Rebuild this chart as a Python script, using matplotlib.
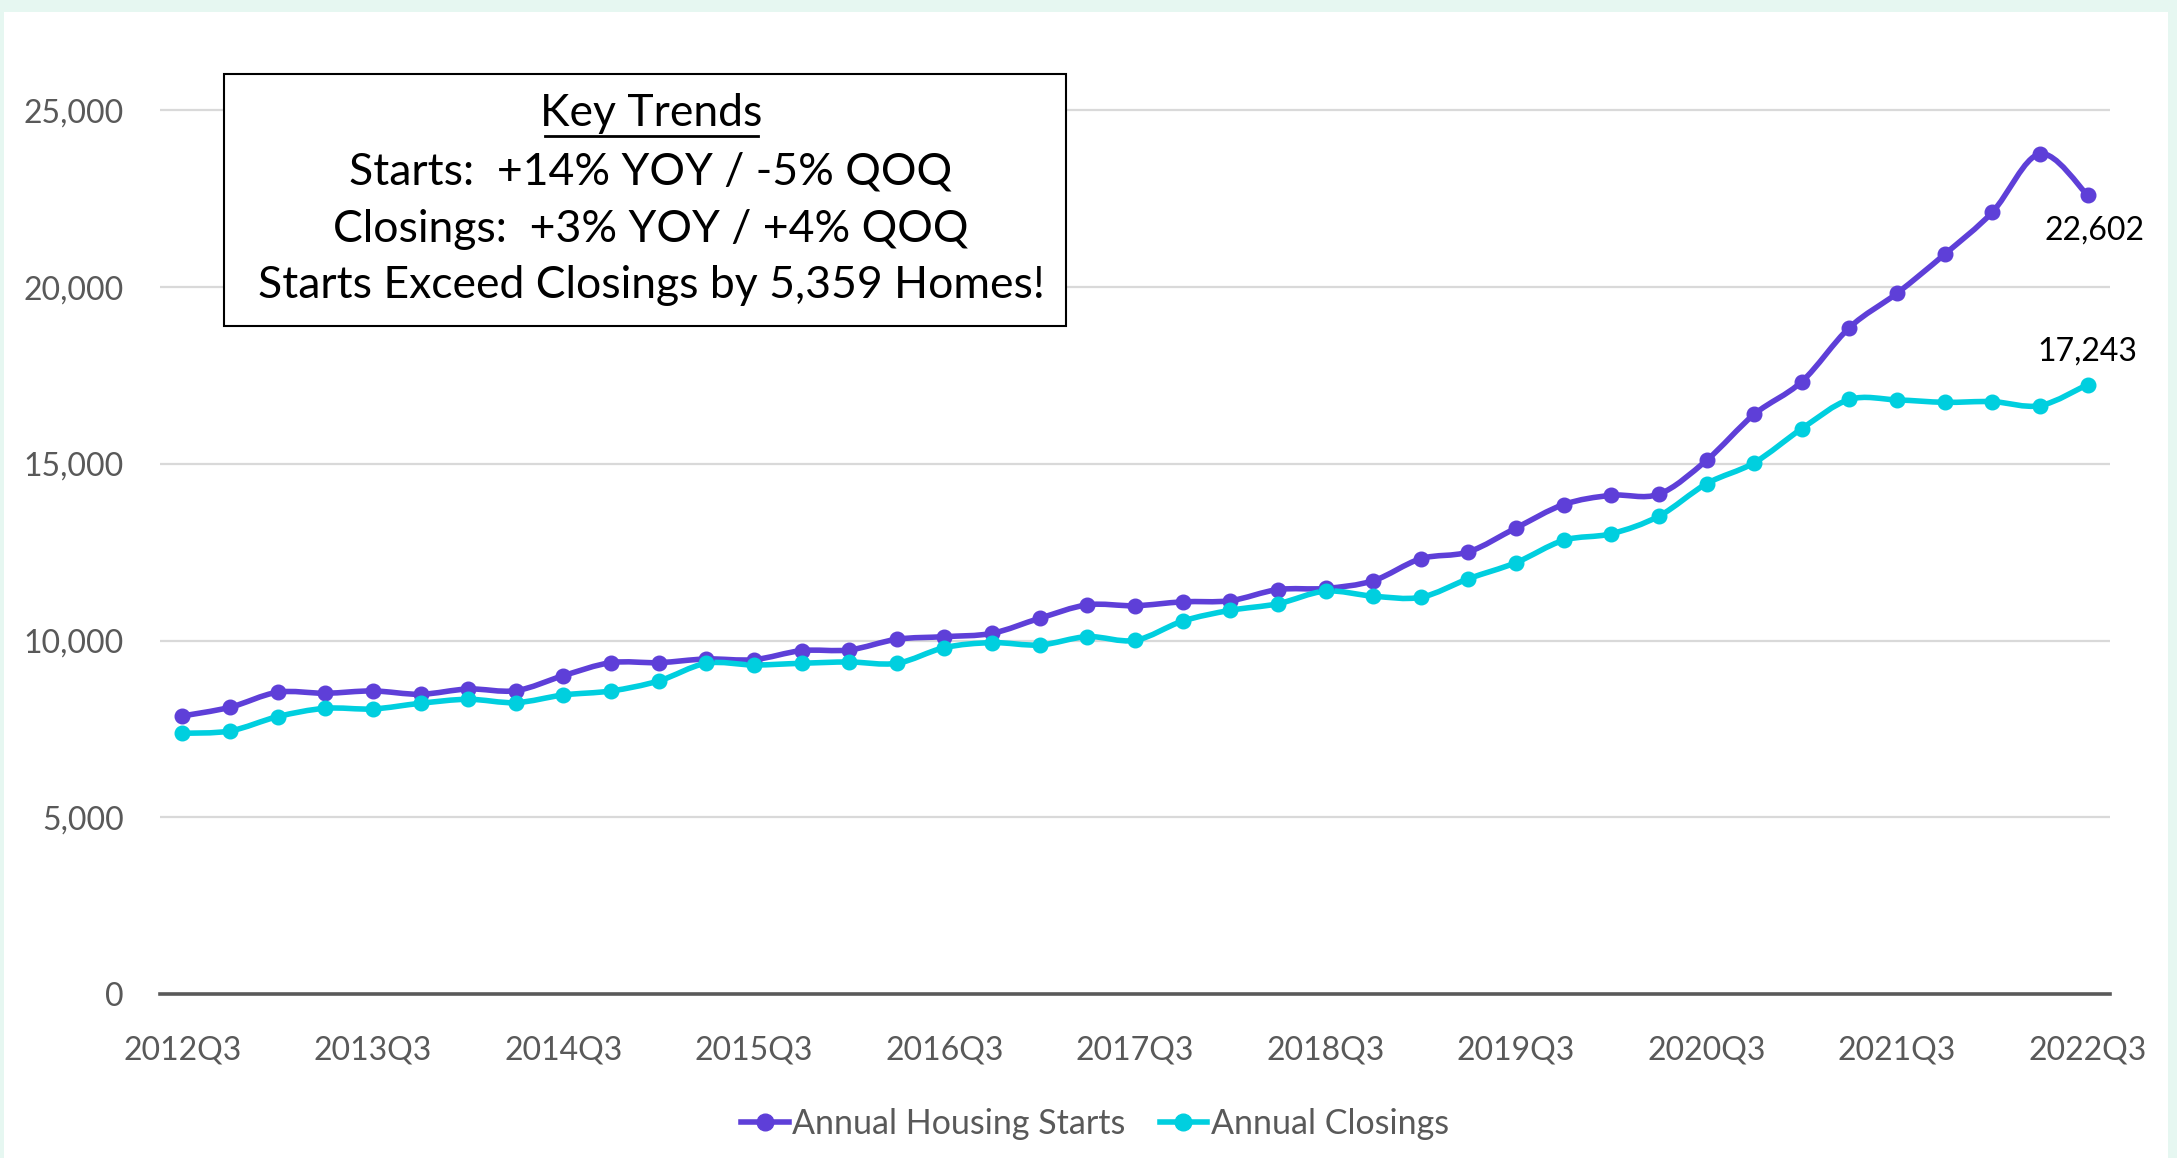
import matplotlib.pyplot as plt
from matplotlib.path import Path
from matplotlib.patches import PathPatch, Rectangle
from matplotlib.lines import Line2D
import numpy as np

# quarters 2012Q3 .. 2022Q3
quarters = []
for yr in range(2012, 2023):
    for q in (1, 2, 3, 4):
        if (yr == 2012 and q < 3) or (yr == 2022 and q > 3):
            continue
        quarters.append(f"{yr}Q{q}")

starts = [7866, 8112, 8537, 8509, 8574, 8480, 8630, 8583, 9007, 9375,
          9375, 9479, 9460, 9715, 9734, 10036, 10110, 10205, 10630, 11010,
          10985, 11095, 11127, 11443, 11475, 11692, 12315, 12510, 13186, 13848,
          14109, 14143, 15100, 16400, 17326, 18855, 19827, 20930, 22120, 23770,
          22602]
closings = [7376, 7442, 7847, 8083, 8065, 8225, 8338, 8243, 8461, 8574,
            8857, 9357, 9309, 9357, 9394, 9357, 9799, 9941, 9875, 10110,
            10006, 10550, 10855, 11041, 11398, 11256, 11225, 11749, 12205, 12836,
            13022, 13520, 14437, 15030, 15995, 16820, 16808, 16740, 16760, 16647,
            17243]

tick_labels = ["2012Q3", "2013Q3", "2014Q3", "2015Q3", "2016Q3", "2017Q3",
               "2018Q3", "2019Q3", "2020Q3", "2021Q3", "2022Q3"]
y_ticks = [0, 5000, 10000, 15000, 20000, 25000]

PURPLE = '#5E3FD8'
CYAN = '#00CFDF'
GRAY = '#595959'

plt.rcParams['font.family'] = ['Lato', 'DejaVu Sans']


def smooth_path(xs, ys):
    """Excel-like smoothed line: cubic bezier through every point"""
    pts = np.column_stack([xs, ys]).astype(float)
    n = len(pts)
    verts = [pts[0]]
    codes = [Path.MOVETO]
    for i in range(n - 1):
        p0 = pts[i - 1] if i > 0 else pts[i]
        p1 = pts[i]
        p2 = pts[i + 1]
        p3 = pts[i + 2] if i + 2 < n else pts[i + 1]
        c1 = p1 + (p2 - p0) / 6.0
        c2 = p2 - (p3 - p1) / 6.0
        verts += [c1, c2, p2]
        codes += [Path.CURVE4] * 3
    return Path(verts, codes)


fig = plt.figure(figsize=(21.77, 11.58), dpi=100, facecolor='#E6F7F1')
# white card over the mint page
fig.patches.append(Rectangle((4 / 2177, 0), 2164 / 2177, 1 - 12 / 1158,
                             transform=fig.transFigure, facecolor='white',
                             edgecolor='none', zorder=-5))

ax = fig.add_axes([160 / 2177, 1 - 994 / 1158, 1950 / 2177, 972 / 1158])
ax.set_facecolor('none')
ax.set_zorder(1)

x = np.arange(len(quarters))
for series, color in ((starts, PURPLE), (closings, CYAN)):
    ax.add_patch(PathPatch(smooth_path(x, series), facecolor='none',
                           edgecolor=color, lw=4, zorder=3,
                           capstyle='round', joinstyle='round'))
    ax.plot(x, series, ls='none', marker='o', ms=10.5, color=color, zorder=4)

ax.set_xlim(-0.47, len(quarters) - 0.53)
ax.set_ylim(0, 27500)

ax.set_yticks(y_ticks)
ax.set_yticklabels([f"{v:,}" for v in y_ticks])
ax.set_xticks([quarters.index(t) for t in tick_labels])
ax.set_xticklabels(tick_labels)
ax.tick_params(axis='both', length=0, labelsize=23, labelcolor=GRAY)
ax.tick_params(axis='y', pad=26)
ax.tick_params(axis='x', pad=30)

ax.grid(axis='y', color='#D9D9D9', lw=1.6)
ax.set_axisbelow(True)
for side in ('top', 'right', 'left'):
    ax.spines[side].set_visible(False)
ax.spines['bottom'].set_color(GRAY)
ax.spines['bottom'].set_linewidth(2.6)

# end labels
ax.annotate(f"{starts[-1]:,}", (x[-1], starts[-1]), xytext=(5, -15),
            textcoords='offset points', ha='center', va='top', fontsize=23,
            color='black')
ax.annotate(f"{closings[-1]:,}", (x[-1], closings[-1]), xytext=(0, 13),
            textcoords='offset points', ha='center', va='bottom', fontsize=23,
            color='black')

# key trends box
box = Rectangle((224 / 2177, 1 - 326 / 1158), 842 / 2177, 252 / 1158,
                transform=fig.transFigure, facecolor='white',
                edgecolor='black', lw=1.5, zorder=5)
fig.patches.append(box)
cx = 651 / 2177
lines = ["Key Trends",
         "Starts:  +14% YOY / -5% QOQ",
         "Closings:  +3% YOY / +4% QOQ",
         "Starts Exceed Closings by 5,359 Homes!"]
ys = [114, 172, 229, 285]
for txt, yy in zip(lines, ys):
    fig.text(cx, 1 - yy / 1158, txt, ha='center', va='center',
             fontsize=32, color='black', zorder=6)
# underline for title
fig.add_artist(Line2D([545 / 2177, 758 / 2177], [1 - 136 / 1158, 1 - 136 / 1158],
                      color='black', lw=2, zorder=6))

handles = [Line2D([], [], color=PURPLE, lw=4, marker='o', ms=12),
           Line2D([], [], color=CYAN, lw=4, marker='o', ms=12)]
fig.legend(handles, ["Annual Housing Starts", "Annual Closings"],
           loc='center', bbox_to_anchor=(0.503, 1 - 1124 / 1158), ncol=2,
           frameon=False, fontsize=24.5, labelcolor=GRAY, handlelength=1.4,
           handletextpad=0.1, columnspacing=1.0)

fig.savefig('out.png', dpi=100, facecolor=fig.get_facecolor())
